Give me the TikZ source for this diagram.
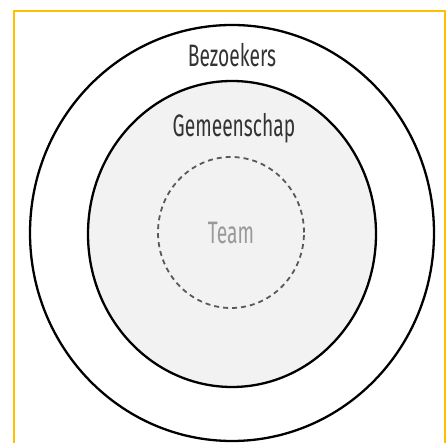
\documentclass[tikz,border=0pt]{standalone}
\usepackage{fontspec}
\usetikzlibrary{shapes.geometric}
\setmainfont{Fira Sans}[FakeStretch=0.62]
\begin{document}
\begin{tikzpicture}[x=1pt,y=1pt,
  ring/.style={draw=black,line width=2.3pt},
  lbl/.style={inner sep=0pt,font=\fontsize{31}{34}\selectfont,text=black!80}]
\useasboundingbox (0,0) rectangle (447,443);
\clip (0,0) rectangle (447,443);
\draw[draw={rgb,255:red,255;green,192;blue,0},line width=2pt] (14,-5) -- (14,432) -- (445,432) -- (445,-5);
\node[ring,ellipse,minimum width=404pt,minimum height=416pt,inner sep=0pt] (bez) at (232,210) {};
\node[ring,fill={rgb,255:red,242;green,242;blue,242},minimum width=288pt,minimum height=306pt,inner sep=0pt,ellipse] (gem) at (232,209) {};
\node[draw=black!65,line width=1.8pt,dash pattern=on 5pt off 4pt,ellipse,minimum width=146pt,minimum height=151pt,inner sep=0pt] (team) at (231,210.5) {};
\node[lbl] (tbez) at (232,388) {Bezoekers};
\node[lbl] (tgem) at (234,315) {Gemeenschap};
\node[lbl,text=black!40] (tteam) at (231,210) {Team};
\end{tikzpicture}
\end{document}
